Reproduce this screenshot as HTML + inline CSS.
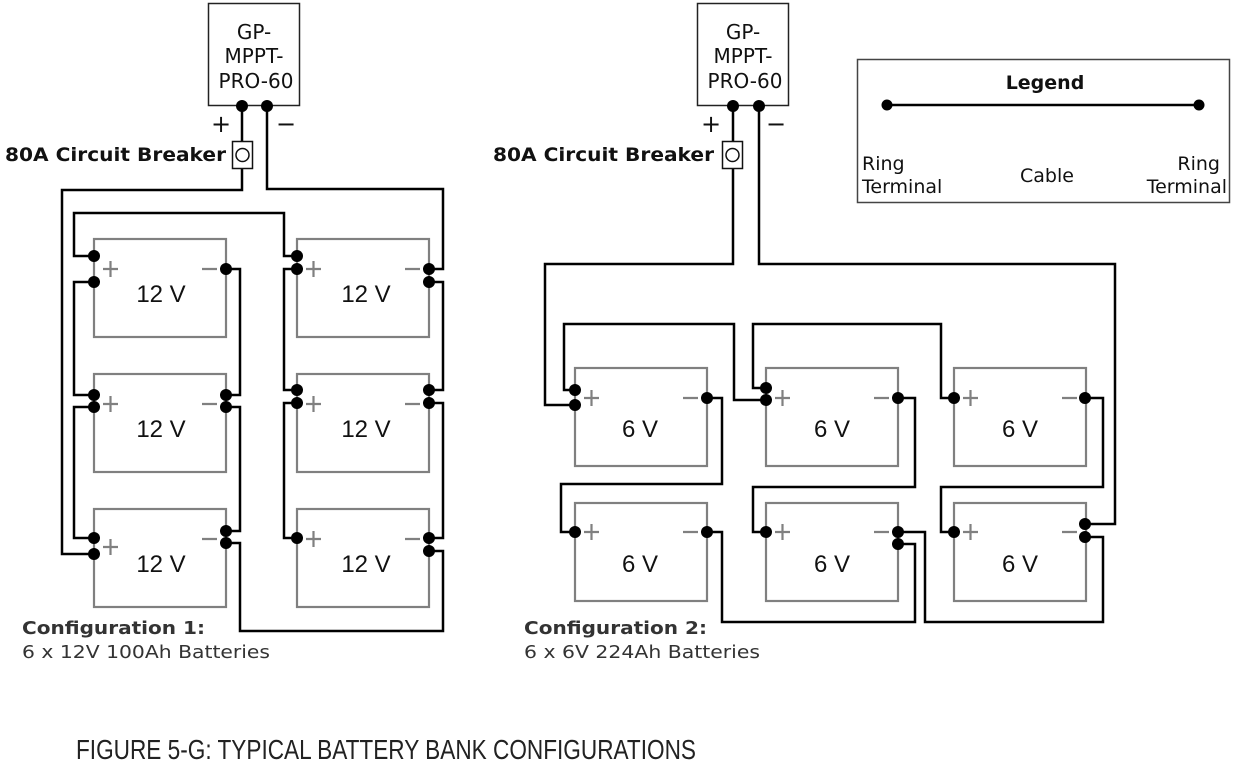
<!DOCTYPE html>
<html><head><meta charset="utf-8"><style>
html,body{margin:0;padding:0;background:#fff;}
svg{display:block;}
text{font-family:"DejaVu Sans","Liberation Sans",sans-serif;}
.ctl{font-size:20px;fill:#111;text-anchor:middle;}
.pm{font-size:24px;fill:#111;text-anchor:middle;}
.brk{font-size:19px;font-weight:bold;fill:#111;}
.bat{font-family:"Liberation Sans",sans-serif;font-size:24px;fill:#111;text-anchor:middle;}
.leg{font-size:19px;fill:#111;}
.cfg{font-size:18px;fill:#333;}
.cap{font-family:"Liberation Sans Narrow","Liberation Sans",sans-serif;font-size:28px;fill:#222;}
</style></head><body>
<svg width="1237" height="764" viewBox="0 0 1237 764" xmlns="http://www.w3.org/2000/svg">
<g fill="#fff" stroke="#222" stroke-width="1.5">
<rect x="208.5" y="3.5" width="91" height="102"/>
<rect x="697.5" y="3.5" width="91" height="102"/>
</g>
<text class="ctl" x="254" y="39">GP-</text><text class="ctl" x="254" y="63">MPPT-</text><text class="ctl" x="256" y="88">PRO-60</text>
<text class="ctl" x="743" y="39">GP-</text><text class="ctl" x="743" y="63">MPPT-</text><text class="ctl" x="745" y="88">PRO-60</text>
<text class="pm" x="221" y="132">+</text><text class="pm" x="286" y="132">−</text>
<text class="pm" x="711" y="132">+</text><text class="pm" x="776" y="132">−</text>
<text class="brk" x="5" y="161" textLength="221" lengthAdjust="spacingAndGlyphs">80A Circuit Breaker</text>
<text class="brk" x="493" y="161" textLength="221" lengthAdjust="spacingAndGlyphs">80A Circuit Breaker</text>

<g fill="none" stroke="#808080" stroke-width="2.2">
<rect x="94" y="239" width="132" height="98"/><rect x="297" y="239" width="132" height="98"/>
<rect x="94" y="374" width="132" height="98"/><rect x="297" y="374" width="132" height="98"/>
<rect x="94" y="509" width="132" height="98"/><rect x="297" y="509" width="132" height="98"/>
<rect x="575" y="368" width="132" height="98"/><rect x="766" y="368" width="132" height="98"/><rect x="954" y="368" width="132" height="98"/>
<rect x="575" y="503" width="132" height="98"/><rect x="766" y="503" width="132" height="98"/><rect x="954" y="503" width="132" height="98"/>
</g>
<g stroke="#808080" stroke-width="2.2">
<path d="M103 269h15M110.5 261v16M202 269h15 M306 269h15M313.5 261v16M405 269h15
M103 404h15M110.5 396v16M202 404h15 M306 404h15M313.5 396v16M405 404h15
M103 547h15M110.5 539v16M202 539h15 M306 539h15M313.5 531v16M405 539h15
M584 398h15M591.5 390v16M683 398h15 M775 398h15M782.5 390v16M874 398h15 M963 398h15M970.5 390v16M1062 398h15
M584 532h15M591.5 524v16M683 532h15 M775 532h15M782.5 524v16M874 532h15 M963 532h15M970.5 524v16M1062 532h15"/>
</g>
<text class="bat" x="161" y="302">12 V</text><text class="bat" x="366" y="302">12 V</text>
<text class="bat" x="161" y="437">12 V</text><text class="bat" x="366" y="437">12 V</text>
<text class="bat" x="161" y="572">12 V</text><text class="bat" x="366" y="572">12 V</text>
<text class="bat" x="640" y="437">6 V</text><text class="bat" x="832" y="437">6 V</text><text class="bat" x="1020" y="437">6 V</text>
<text class="bat" x="640" y="572">6 V</text><text class="bat" x="832" y="572">6 V</text><text class="bat" x="1020" y="572">6 V</text>

<g fill="none" stroke="#000" stroke-width="2.5">
<path d="M242 106V141M242 169V190H62V554H94"/>
<path d="M267 106V189H443V269H429"/>
<path d="M94 256H74V213H284V256H297"/>
<path d="M226 269H240V395H226"/>
<path d="M226 407H240V531H226"/>
<path d="M226 543H240V631H443V551H429"/>
<path d="M94 282H74V395H94"/>
<path d="M94 407H74V538H94"/>
<path d="M297 269H284V390H297"/>
<path d="M297 403H284V538H297"/>
<path d="M429 282H443V390H429"/>
<path d="M429 403H443V538H429"/>
</g>
<rect x="232.5" y="141.5" width="20" height="27" fill="#fff" stroke="#111" stroke-width="1.5"/>
<circle cx="242.5" cy="155" r="6.5" fill="#fff" stroke="#111" stroke-width="1.5"/>
<g fill="#000">
<circle cx="242" cy="106" r="6"/><circle cx="267" cy="106" r="6"/>
<circle cx="94" cy="256" r="6"/><circle cx="94" cy="282" r="6"/><circle cx="226" cy="269" r="6"/>
<circle cx="297" cy="256" r="6"/><circle cx="297" cy="269" r="6"/><circle cx="429" cy="269" r="6"/><circle cx="429" cy="282" r="6"/>
<circle cx="94" cy="395" r="6"/><circle cx="94" cy="407" r="6"/><circle cx="226" cy="395" r="6"/><circle cx="226" cy="407" r="6"/>
<circle cx="297" cy="390" r="6"/><circle cx="297" cy="403" r="6"/><circle cx="429" cy="390" r="6"/><circle cx="429" cy="403" r="6"/>
<circle cx="94" cy="538" r="6"/><circle cx="94" cy="554" r="6"/><circle cx="226" cy="531" r="6"/><circle cx="226" cy="543" r="6"/>
<circle cx="297" cy="538" r="6"/><circle cx="429" cy="538" r="6"/><circle cx="429" cy="551" r="6"/>
</g>

<g fill="none" stroke="#000" stroke-width="2.5">
<path d="M733 106V141M733 169V264H545V405H575"/>
<path d="M759 106V264H1115V524H1085"/>
<path d="M575 390H564V324H734V400H766"/>
<path d="M766 388H753V324H941V398H954"/>
<path d="M707 398H722V484H561V532H575"/>
<path d="M707 532H722V622H915V544H898"/>
<path d="M898 398H915V487H753V532H766"/>
<path d="M898 532H925V622H1103V537H1085"/>
<path d="M1085 398H1103V487H941V532H954"/>
</g>
<rect x="722.5" y="141.5" width="20" height="27" fill="#fff" stroke="#111" stroke-width="1.5"/>
<circle cx="732.5" cy="155" r="6.5" fill="#fff" stroke="#111" stroke-width="1.5"/>
<g fill="#000">
<circle cx="733" cy="106" r="6"/><circle cx="759" cy="106" r="6"/>
<circle cx="575" cy="390" r="6"/><circle cx="575" cy="405" r="6"/><circle cx="707" cy="398" r="6"/>
<circle cx="766" cy="388" r="6"/><circle cx="766" cy="400" r="6"/><circle cx="898" cy="398" r="6"/>
<circle cx="954" cy="398" r="6"/><circle cx="1085" cy="398" r="6"/>
<circle cx="575" cy="532" r="6"/><circle cx="707" cy="532" r="6"/>
<circle cx="766" cy="532" r="6"/><circle cx="898" cy="532" r="6"/><circle cx="898" cy="544" r="6"/>
<circle cx="954" cy="532" r="6"/><circle cx="1085" cy="524" r="6"/><circle cx="1085" cy="537" r="6"/>
</g>

<rect x="857.5" y="59.5" width="372" height="143" fill="#fff" stroke="#444" stroke-width="1.5"/>
<text class="leg" x="1045" y="89" font-weight="bold" text-anchor="middle" style="font-weight:bold;text-anchor:middle">Legend</text>
<path d="M887 105H1199" stroke="#000" stroke-width="2.5"/>
<circle cx="887" cy="105" r="5.5" fill="#000"/><circle cx="1199" cy="105" r="5.5" fill="#000"/>
<text class="leg" x="862" y="170">Ring</text><text class="leg" x="862" y="193">Terminal</text>
<text class="leg" x="1047" y="182" style="text-anchor:middle">Cable</text>
<text class="leg" x="1220" y="170" style="text-anchor:end">Ring</text><text class="leg" x="1227" y="193" style="text-anchor:end">Terminal</text>

<text class="cfg" x="22" y="634" style="font-weight:bold" textLength="183" lengthAdjust="spacingAndGlyphs">Configuration 1:</text>
<text class="cfg" x="22" y="658" textLength="248" lengthAdjust="spacingAndGlyphs">6 x 12V 100Ah Batteries</text>
<text class="cfg" x="524" y="634" style="font-weight:bold" textLength="183" lengthAdjust="spacingAndGlyphs">Configuration 2:</text>
<text class="cfg" x="524" y="658" textLength="236" lengthAdjust="spacingAndGlyphs">6 x 6V 224Ah Batteries</text>
<text class="cap" x="76" y="759" textLength="620" lengthAdjust="spacingAndGlyphs">FIGURE 5-G: TYPICAL BATTERY BANK CONFIGURATIONS</text>
</svg>
</body></html>
